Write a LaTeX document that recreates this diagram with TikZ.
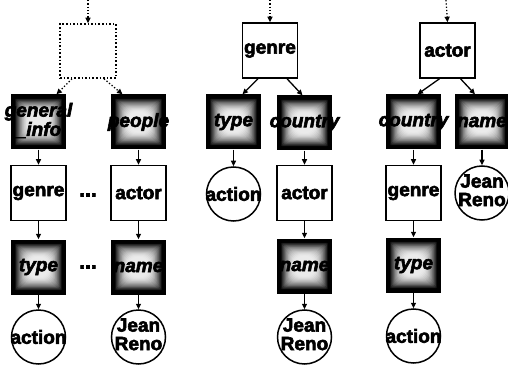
\documentclass[tikz,border=0pt]{standalone}
\usepackage{fontspec}
\setmainfont{Liberation Sans}[BoldFeatures={FakeBold=3},BoldItalicFeatures={FakeBold=3}]
\usetikzlibrary{arrows.meta,calc}

\newcommand\Tx[1]{\makebox[0pt]{#1}}
\newcommand\Tw[1]{\makebox[0pt]{\begin{tabular}{@{}c@{}}#1\end{tabular}}}

\begin{document}
\begin{tikzpicture}[x=1pt,y=-1pt,
  every node/.style={inner sep=0pt, font=\fontsize{19}{18}\selectfont\bfseries},
  plainbox/.style={draw, line width=1.5pt, fill=white, minimum width=55pt, minimum height=55pt},
  shadebox/.style={minimum width=55pt, minimum height=55pt,
    font=\fontsize{19}{18}\selectfont\bfseries\itshape,
    path picture={
      \fill[black] (path picture bounding box.south west) rectangle (path picture bounding box.north east);
      \foreach \k in {1,...,16}{
        \pgfmathtruncatemacro\gr{8+92*(1-\k/16)^1.6}
        \fill[black!\gr!white, rounded corners=\k*0.6pt]
          ($(path picture bounding box.south west)+({3.5pt+\k*0.85pt},{3.5pt+\k*0.85pt})$) rectangle
          ($(path picture bounding box.north east)-({3.5pt+\k*0.85pt},{3.5pt+\k*0.85pt})$);
      }
    }},
  leaf/.style={circle, draw, line width=1.5pt, fill=white, minimum size=54pt},
  dashbox/.style={draw, dotted, line width=1.6pt, minimum width=56pt, minimum height=54pt},
  arr/.style={line width=1.3pt, -{Triangle[length=5.5pt,width=5pt]}},
  darr/.style={arr, dotted},
  dotsnode/.style={font=\fontsize{21}{21}\selectfont\bfseries}
]
\fill[white] (0,0) rectangle (508,366);
\useasboundingbox (0,0) rectangle (508,366);

% ---------- tree 1 ----------
\coordinate (s1) at (88,0);
\node[dashbox] (d1) at (88,51) {};
\node[shadebox] (gi) at (38.5,122) {\Tw{general\\\_info}};
\node[shadebox] (pe) at (138.5,122) {\Tx{people}};
\node[plainbox] (g1) at (38.5,193) {\Tx{genre}};
\node[plainbox] (a1) at (138.5,193) {\Tx{actor}};
\node[shadebox] (t1) at (38.5,267) {\Tx{type}};
\node[shadebox] (n1) at (138.5,267) {\Tx{name}};
\node[leaf] (ac1) at (38.5,337) {\Tx{action}};
\node[leaf] (j1) at (138.5,337) {\Tw{Jean\\Reno}};
\node[dotsnode] (e1) at (88,195) {...};
\node[dotsnode] (e2) at (88,267) {...};

\draw[darr] (s1) -- (d1.north);
\draw[darr] ($(d1.south)+(-16,0)$) -- ($(gi.north)+(18,0)$);
\draw[darr] ($(d1.south)+(16,0)$) -- ($(pe.north)+(-16,0)$);
\draw[arr] (gi.south) -- (g1.north);
\draw[arr] (pe.south) -- (a1.north);
\draw[arr] (g1.south) -- (t1.north);
\draw[arr] (a1.south) -- (n1.north);
\draw[arr] (t1.south) -- (ac1.north);
\draw[arr] (n1.south) -- (j1.north);

% ---------- tree 2 ----------
\coordinate (s2) at (270,0);
\node[plainbox] (g2) at (270,50.5) {\Tx{genre}};
\node[shadebox] (t2) at (233.5,122) {\Tx{type}};
\node[shadebox] (c2) at (304.5,123) {\Tx{country}};
\node[leaf] (ac2) at (233.5,194) {\Tx{action}};
\node[plainbox] (a2) at (304.5,193) {\Tx{actor}};
\node[shadebox] (n2) at (304.5,266) {\Tx{name}};
\node[leaf] (j2) at (304.5,337) {\Tw{Jean\\Reno}};

\draw[darr] (s2) -- (g2.north);
\draw[arr] ($(g2.south)+(-12,0)$) -- ($(t2.north)+(9,0)$);
\draw[arr] ($(g2.south)+(17,0)$) -- ($(c2.north)+(-2,0)$);
\draw[arr] (t2.south) -- (ac2.north);
\draw[arr] (c2.south) -- (a2.north);
\draw[arr] (a2.south) -- (n2.north);
\draw[arr] (n2.south) -- (j2.north);

% ---------- tree 3 ----------
\coordinate (s3) at (446,0);
\node[plainbox] (a3) at (447.5,50.5) {\Tx{actor}};
\node[shadebox] (c3) at (413.5,122) {\Tx{country}};
\node[shadebox] (n3) at (482,122) {\Tx{name}};
\node[plainbox] (g3) at (413.5,193) {\Tx{genre}};
\node[leaf] (j3) at (482,193) {\Tw{Jean\\Reno}};
\node[shadebox] (t3) at (413.5,265) {\Tx{type}};
\node[leaf] (ac3) at (413.5,336) {\Tx{action}};

\draw[darr] (s3) -- (a3.north);
\draw[arr] ($(a3.south)+(-8,0)$) -- ($(c3.north)+(4,0)$);
\draw[arr] ($(a3.south)+(13,0)$) -- ($(n3.north)+(-7,0)$);
\draw[arr] (c3.south) -- (g3.north);
\draw[arr] (g3.south) -- (t3.north);
\draw[arr] (t3.south) -- (ac3.north);
\draw[arr] (n3.south) -- (j3.north);
\end{tikzpicture}
\end{document}
